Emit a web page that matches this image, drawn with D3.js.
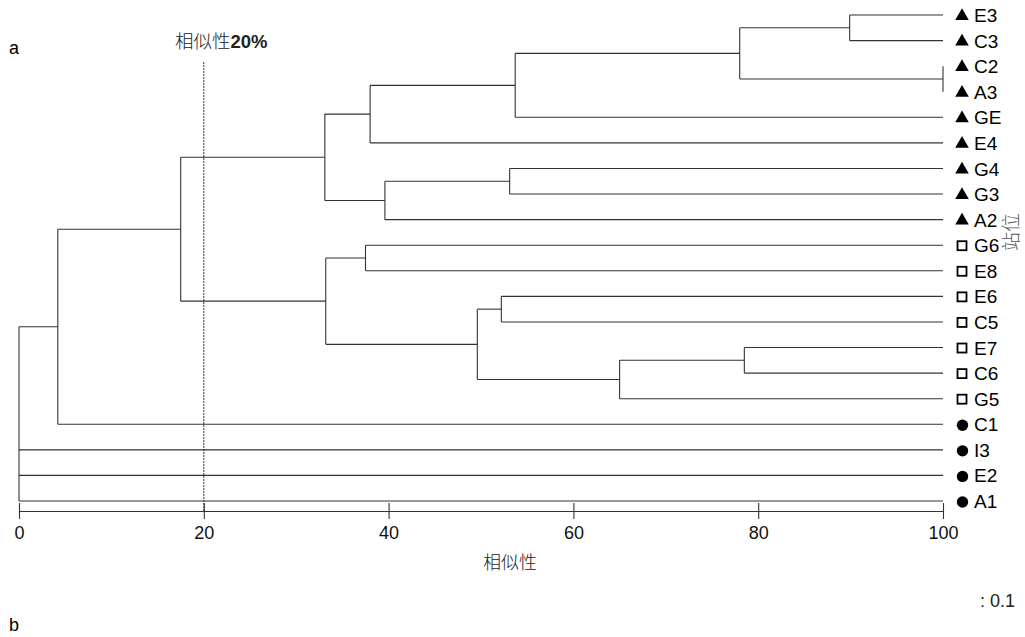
<!DOCTYPE html>
<html>
<head>
<meta charset="utf-8">
<script src="https://cdn.jsdelivr.net/npm/d3@7"></script>
<style>
  html, body { margin: 0; padding: 0; background: #fff; }
  svg { display: block; font-family: "Liberation Sans", Arial, "Noto Sans CJK SC", sans-serif; }
</style>
</head>
<body>
<svg id="chart" width="1025" height="637"></svg>
<script>
// ---- data ----
const leaves = ["E3","C3","C2","A3","GE","E4","G4","G3","A2","G6","E8","E6","C5","E7","C6","G5","C1","I3","E2","A1"];
const leafGroups = ["tri","tri","tri","tri","tri","tri","tri","tri","tri","sq","sq","sq","sq","sq","sq","sq","dot","dot","dot","dot"];
// merges: [node, children, similarity (%)]
const mergeNames = ["n1","n2","n3","n4","n5","n6","n7","n8","n9","n10","n11","n12","n13","n14","n15","n16","root"];
const mergeChildren = [
  ["E3","C3"], ["C2","A3"], ["n1","n2"], ["n3","GE"], ["n4","E4"],
  ["G4","G3"], ["n6","A2"], ["n5","n7"],
  ["G6","E8"], ["E6","C5"], ["E7","C6"], ["n11","G5"], ["n10","n12"], ["n9","n13"],
  ["n8","n14"], ["n15","C1"], ["n16","I3","E2","A1"]
];
const mergeSimilarity = [89.9, 100, 78.0, 53.7, 38.0, 53.1, 39.6, 33.1, 37.5, 52.2, 78.5, 65.0, 49.6, 33.2, 17.5, 4.2, 0];
const xTicks = [0, 20, 40, 60, 80, 100];
const cutoff = 20;

// ---- build hierarchy ----
const childMap = {};
mergeNames.forEach((n, i) => childMap[n] = mergeChildren[i]);
const simMap = {};
mergeNames.forEach((n, i) => simMap[n] = mergeSimilarity[i]);
function build(name) {
  return childMap[name] ? { name, children: childMap[name].map(build) } : { name };
}
const root = d3.hierarchy(build("root"));

const svg = d3.select("#chart");
const x = d3.scaleLinear().domain([0, 100]).range([19, 943]);
const y = d3.scalePoint().domain(leaves).range([15, 501]);
const groupOf = {};
leaves.forEach((l, i) => groupOf[l] = leafGroups[i]);

root.eachAfter(d => {
  if (d.children) {
    d.py = (d.children[0].py + d.children[d.children.length - 1].py) / 2;
    d.px = x(simMap[d.data.name]);
  } else {
    d.py = y(d.data.name);
    d.px = x(100);
  }
});

const lineColor = "#333";
const g = svg.append("g").attr("fill", "none").attr("stroke", lineColor).attr("stroke-width", 1.1);

// vertical connectors
root.descendants().filter(d => d.children).forEach(d => {
  g.append("line")
    .attr("x1", d.px).attr("x2", d.px)
    .attr("y1", d.children[0].py).attr("y2", d.children[d.children.length - 1].py);
});
// horizontal branches
root.descendants().filter(d => d.parent).forEach(d => {
  g.append("line")
    .attr("x1", d.parent.px).attr("x2", d.px)
    .attr("y1", d.py).attr("y2", d.py);
});

// cutoff dashed line
svg.append("line")
  .attr("x1", x(cutoff)).attr("x2", x(cutoff))
  .attr("y1", 62).attr("y2", 511)
  .attr("stroke", "#333").attr("stroke-width", 1).attr("stroke-dasharray", "2,1");
const cutText = svg.append("text").attr("x", 175).attr("y", 48).attr("font-size", 18.5).attr("fill", "#222");
cutText.append("tspan").text("相似性").attr("font-family", "Noto Sans CJK SC").attr("font-weight", 300);
cutText.append("tspan").text(cutoff + "%").attr("font-weight", "bold");

// axis
const axis = d3.axisBottom(x).tickValues(xTicks).tickSizeInner(8).tickSizeOuter(0).tickPadding(7);
const ax = svg.append("g").attr("transform", "translate(0,511)").call(axis);
ax.select(".domain").attr("stroke", lineColor).attr("stroke-width", 1.1);
ax.selectAll(".tick line").attr("y1", -8).attr("stroke", lineColor).attr("stroke-width", 1.1);
ax.selectAll(".tick text").attr("font-size", 18).attr("fill", "#111")
  .attr("font-family", "Liberation Sans, Arial, sans-serif");

svg.append("text").attr("x", 510).attr("y", 569).attr("text-anchor", "middle")
  .attr("font-size", 18).attr("font-family", "Noto Sans CJK SC").attr("font-weight", 300)
  .attr("fill", "#222").text("相似性");

// leaf labels and symbols
const leafG = svg.append("g");
root.leaves().forEach(d => {
  const grp = groupOf[d.data.name];
  const cx = 962, cy = d.py;
  if (grp === "tri") {
    leafG.append("path").attr("d", d3.symbol(d3.symbolTriangle, 80)()).attr("transform", `translate(${cx},${cy + 1})`).attr("fill", "#000");
  } else if (grp === "sq") {
    leafG.append("rect").attr("x", cx - 4.5).attr("y", cy - 4).attr("width", 9).attr("height", 9)
      .attr("fill", "#fff").attr("stroke", "#000").attr("stroke-width", 1.8);
  } else {
    leafG.append("circle").attr("cx", cx + 0.5).attr("cy", cy + 1).attr("r", 5.7).attr("fill", "#000");
  }
  leafG.append("text").attr("x", 974).attr("y", cy).attr("dy", "0.37em")
    .attr("font-size", 19).attr("fill", "#000").text(d.data.name);
});

// side label
svg.append("text").attr("transform", "translate(1018,232) rotate(-90)").attr("text-anchor", "middle")
  .attr("font-size", 19).attr("font-family", "Noto Sans CJK SC").attr("font-weight", 300)
  .attr("fill", "#555").text("站位");

// panel letters & scale note
svg.append("text").attr("x", 9).attr("y", 54).attr("font-size", 18).attr("fill", "#000").text("a");
svg.append("text").attr("x", 9).attr("y", 631).attr("font-size", 18).attr("fill", "#000").text("b");
svg.append("text").attr("x", 1015).attr("y", 607).attr("text-anchor", "end").attr("font-size", 18).attr("fill", "#222").text(": 0.1");
</script>
</body>
</html>
